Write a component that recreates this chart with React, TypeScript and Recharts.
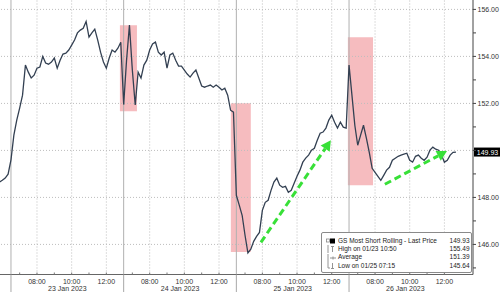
import React from 'react';
import { LineChart, Line, XAxis, YAxis, ReferenceLine, ReferenceArea } from 'recharts';

const FONT = '"Liberation Sans", Arial, sans-serif';

// each session runs 06:30 - 13:00, values every 10 minutes
const SESSION_MIN = 390;
const STEP_MIN = 10;

const dateLabels = ['23 Jan 2023', '24 Jan 2023', '25 Jan 2023', '26 Jan 2023'];
const hourOffsets = [30, 90, 150, 210, 270, 330]; // 07:00 .. 12:00
const hourLabels = ['', '08:00', '', '10:00', '', '12:00'];
const gridHours = [90, 210, 330];

const jan20Tail = [148.65, 148.73, 148.82, 148.99];
const jan23 = [
  149.6, 150.65, 151.29, 151.8, 152.35, 153.63, 153.33, 153.08, 153.2, 153.5,
  153.55, 154.0, 153.72, 153.67, 153.76, 153.93, 153.5, 153.84, 154.1, 154.14,
  154.27, 154.48, 154.7, 155.0, 155.12, 155.2, 155.49, 154.82, 155.0, 155.16,
  154.7, 154.18, 153.76, 153.5, 153.93, 154.27, 154.18, 154.35, 154.6,
];
const jan24 = [
  151.95, 153.84, 155.33, 153.42, 151.93, 153.33, 153.08, 153.63, 153.84, 154.27,
  154.53, 154.61, 154.18, 154.06, 154.18, 153.5, 154.06, 154.14, 153.84, 153.59,
  153.59, 153.42, 153.25, 153.12, 153.29, 153.42, 153.08, 152.74, 152.69, 152.74,
  152.78, 152.69, 152.78, 152.69, 152.57, 152.65, 152.35, 151.71, 151.63,
];
const jan25 = [
  148.09, 147.67, 147.24, 146.39, 145.64, 145.8, 146.13, 146.34, 146.51, 147.45,
  147.79, 147.88, 148.3, 148.65, 148.82, 148.52, 148.43, 148.47, 148.22, 148.3,
  148.6, 148.9, 149.16, 149.5, 149.67, 149.8, 150.01, 150.09, 150.43, 150.73,
  150.78, 150.95, 151.29, 151.5, 151.2, 150.95, 151.2, 150.99, 150.95,
];
const jan26 = [
  153.63, 152.35, 151.07, 150.22, 150.65, 151.07, 150.52, 149.92, 149.24, 149.07,
  148.9, 148.73, 148.94, 149.16, 149.28, 149.58, 149.67, 149.75, 149.8, 149.84,
  149.88, 149.58, 149.5, 149.75, 149.8, 149.67, 149.58, 149.71, 150.01, 150.14,
  150.05, 150.01, 149.8, 149.5, 149.58, 149.8, 149.92, 149.93,
];

// day index relative to 23 Jan, first bar minutes after 06:30
const sessions = [
  { day: -1, first: 350, values: jan20Tail },
  { day: 0, first: 0, values: jan23 },
  { day: 1, first: 0, values: jan24 },
  { day: 2, first: 0, values: jan25 },
  { day: 3, first: 0, values: jan26 },
];

const lastPrice = 149.93;
const yTicks = [145, 146, 147, 148, 149, 150, 151, 152, 153, 154, 155, 156];
const hiddenTickLabels = [150]; // covered by the last price tag
const gridPrices = [146, 148, 150, 152, 154, 156];

// highlighted windows: [from, to] in session minutes, [low, high] price
const highlights = [
  { t: [377, 436], p: [151.67, 155.33] },
  { t: [761, 830], p: [145.68, 152.01] },
  { t: [1166, 1253], p: [148.52, 154.81] },
];
const arrows = [
  { from: { x: 865, y: 146.09 }, to: { x: 1107, y: 150.43 } },
  { from: { x: 1294, y: 148.56 }, to: { x: 1509, y: 149.97 } },
];

const legendRows = [
  { icon: 'last', label: 'GS Most Short Rolling - Last Price', value: '149.93' },
  { icon: 'high', label: 'High on 01/23 10:50', value: '155.49' },
  { icon: 'avg', label: 'Average', value: '151.39' },
  { icon: 'low', label: 'Low on 01/25 07:15', value: '145.64' },
];

const data = sessions.flatMap((s) =>
  s.values.map((v, k) => ({ t: s.day * SESSION_MIN + s.first + k * STEP_MIN, price: v }))
);

const tickInfo = new Map<number, { kind: string; label: string }>();
dateLabels.forEach((d, i) => {
  const base = i * SESSION_MIN;
  tickInfo.set(base, { kind: 'day', label: '' });
  hourOffsets.forEach((h, j) => tickInfo.set(base + h, { kind: 'hour', label: hourLabels[j] }));
  tickInfo.set(base + 195, { kind: 'date', label: d });
});
const xTicks = Array.from(tickInfo.keys()).sort((a, b) => a - b);

function TimeTick({ x, y, payload }: any) {
  const info = tickInfo.get(payload.value);
  if (!info) return <g />;
  if (info.kind === 'day') {
    return <line x1={x} x2={x} y1={y} y2={292} stroke="#a8a8a8" strokeWidth={1} />;
  }
  if (info.kind === 'date') {
    return (
      <text x={x} y={y + 16.5} textAnchor="middle" fontSize={7} fill="#333" fontFamily={FONT}>
        {info.label}
      </text>
    );
  }
  return (
    <g>
      <line x1={x} x2={x} y1={y - 2} y2={y} stroke="#777" />
      {info.label ? (
        <text x={x} y={y + 9} textAnchor="middle" fontSize={7} fill="#333" fontFamily={FONT}>
          {info.label}
        </text>
      ) : null}
    </g>
  );
}

function Arrow(props: any) {
  const { x1, y1, x2, y2 } = props;
  const a = Math.atan2(y2 - y1, x2 - x1);
  const len = 10;
  const half = 5.5;
  const bx = x2 - len * Math.cos(a);
  const by = y2 - len * Math.sin(a);
  const px = -Math.sin(a) * half;
  const py = Math.cos(a) * half;
  return (
    <g>
      <line x1={x1} y1={y1} x2={bx} y2={by} stroke="#38e038" strokeWidth={3} strokeDasharray="7 4" />
      <polygon points={`${x2},${y2} ${bx + px},${by + py} ${bx - px},${by - py}`} fill="#38e038" />
    </g>
  );
}

function PriceTag(props: any) {
  const vb = props.viewBox || {};
  const x = (vb.x || 0) + (vb.width || 0);
  const y = vb.y || 0;
  return (
    <g>
      <rect x={x + 1} y={y - 4.5} width={27} height={9} fill="#000" />
      <text x={x + 14.5} y={y + 2.5} textAnchor="middle" fontSize={7} fill="#fff" fontFamily={FONT}>
        {lastPrice.toFixed(2)}
      </text>
    </g>
  );
}

function LegendIcon({ kind }: { kind: string }) {
  const c = '#888';
  return (
    <svg width={13} height={8} style={{ flex: 'none' }}>
      {kind === 'last' && (
        <g>
          <rect x={1.5} y={2} width={3} height={3} fill="none" stroke={c} strokeWidth={0.8} />
          <rect x={5} y={1.5} width={5} height={5} fill="#000" />
        </g>
      )}
      {kind === 'high' && (
        <g stroke={c} strokeWidth={0.9}>
          <line x1={3} x2={3} y1={0} y2={8} />
          <line x1={6} x2={9} y1={1.5} y2={1.5} />
          <line x1={7.5} x2={7.5} y1={1.5} y2={7} />
        </g>
      )}
      {kind === 'avg' && (
        <g stroke={c} strokeWidth={0.9}>
          <line x1={3} x2={3} y1={0} y2={8} />
          <line x1={5} x2={11} y1={4} y2={4} />
          <line x1={8} x2={8} y1={2.5} y2={5.5} />
        </g>
      )}
      {kind === 'low' && (
        <g stroke={c} strokeWidth={0.9}>
          <line x1={3} x2={3} y1={0} y2={6} />
          <line x1={3} x2={5} y1={6} y2={6} />
          <line x1={7.5} x2={7.5} y1={1} y2={6.5} />
          <line x1={6} x2={9} y1={6.5} y2={6.5} />
        </g>
      )}
    </svg>
  );
}

export default function App() {
  return (
    <div style={{ position: 'absolute', left: 0, top: 0, width: 500, height: 292, background: '#fff' }}>
      <LineChart width={500} height={292} data={data} margin={{ top: 0, right: 0, bottom: 0, left: 0 }}>
        <XAxis
          dataKey="t"
          type="number"
          domain={[-38, 1599]}
          allowDataOverflow
          ticks={xTicks}
          interval={0}
          tick={(p: any) => <TimeTick {...p} />}
          tickLine={false}
          tickSize={0}
          tickMargin={0}
          height={17.5}
          axisLine={{ stroke: '#666' }}
        />
        <YAxis
          orientation="right"
          width={27}
          domain={[144.72, 156.4]}
          allowDataOverflow
          ticks={yTicks}
          interval={0}
          tickSize={3}
          tickMargin={1.5}
          tickFormatter={(v: number) =>
            v % 2 === 0 && !hiddenTickLabels.includes(v) ? v.toFixed(2) : ''
          }
          tick={{ fontSize: 7, fill: '#333', fontFamily: FONT, textAnchor: 'start' }}
          tickLine={{ stroke: '#444' }}
          axisLine={{ stroke: '#444' }}
        />
        {gridPrices.map((p) => (
          <ReferenceLine key={'h' + p} y={p} stroke="#bdbdbd" strokeDasharray="1 2" />
        ))}
        {dateLabels.map((_, d) =>
          gridHours.map((h) => (
            <ReferenceLine key={`v${d}-${h}`} x={d * SESSION_MIN + h} stroke="#bdbdbd" strokeDasharray="1 2" />
          ))
        )}
        {dateLabels.map((_, d) => (
          <ReferenceLine key={'d' + d} x={d * SESSION_MIN} stroke="#b0b0b0" />
        ))}
        <Line
          type="linear"
          dataKey="price"
          stroke="#334052"
          strokeWidth={1.3}
          dot={false}
          isAnimationActive={false}
        />
        {highlights.map((h, i) => (
          <ReferenceArea
            key={'a' + i}
            x1={h.t[0]}
            x2={h.t[1]}
            y1={h.p[0]}
            y2={h.p[1]}
            fill="#ee7a80"
            fillOpacity={0.5}
            stroke="none"
          />
        ))}
        {arrows.map((a, i) => (
          <ReferenceLine key={'ar' + i} segment={[a.from, a.to]} shape={(p: any) => <Arrow {...p} />} />
        ))}
        <ReferenceLine y={lastPrice} stroke="none" label={{ content: (p: any) => <PriceTag {...p} /> }} />
      </LineChart>
      <div
        style={{
          position: 'absolute',
          left: 321,
          top: 232,
          width: 151,
          height: 41,
          boxSizing: 'border-box',
          border: '1px solid #8a8a8a',
          borderRadius: 2,
          background: '#fff',
          fontFamily: FONT,
          fontSize: 6.5,
          color: '#222',
          padding: '3.8px 1.5px 0 3px',
        }}
      >
        {legendRows.map((r) => (
          <div key={r.label} style={{ display: 'flex', alignItems: 'center', height: 8.3, lineHeight: '8.3px' }}>
            <LegendIcon kind={r.icon} />
            <span style={{ flex: 1, whiteSpace: 'nowrap' }}>{r.label}</span>
            <span>{r.value}</span>
          </div>
        ))}
      </div>
    </div>
  );
}
